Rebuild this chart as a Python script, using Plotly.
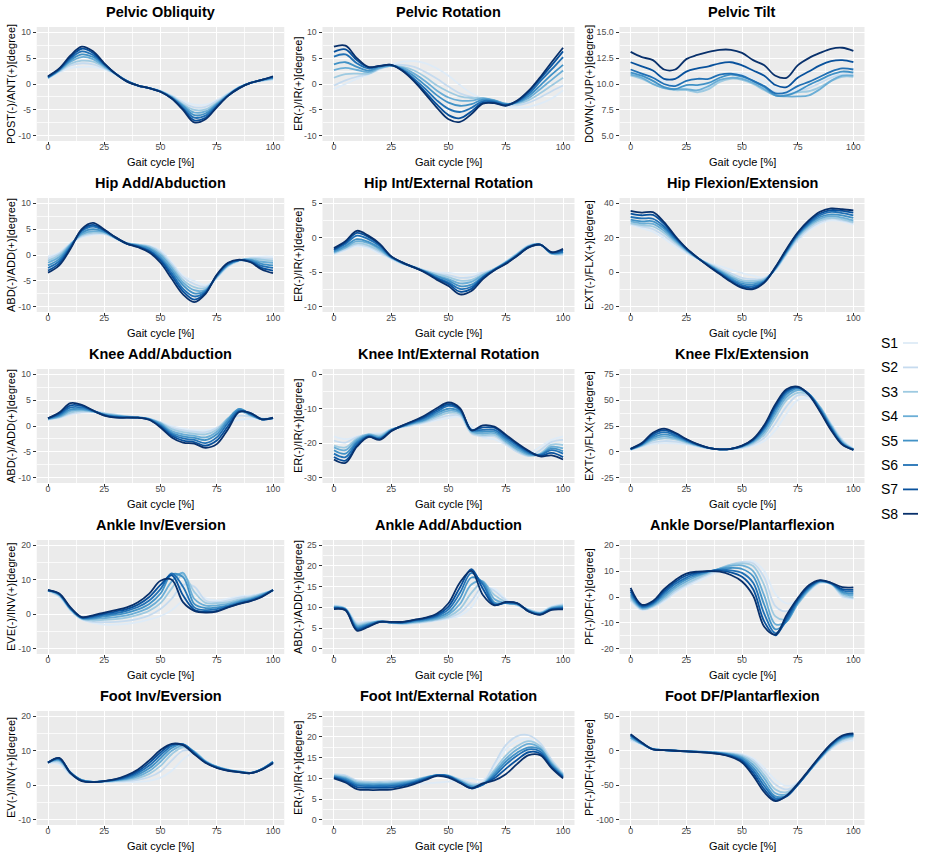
import plotly.graph_objects as go

W, H = 925, 858
FONT = "Liberation Sans, Arial, sans-serif"

gait = [0, 5, 10, 15, 20, 25, 30, 35, 40, 45, 50, 55, 60, 65, 70, 75, 80, 85, 90, 95, 100]
series_names = ["S1", "S2", "S3", "S4", "S5", "S6", "S7", "S8"]
colors = ["#DEEBF7", "#C6DBEF", "#9ECAE1", "#6BAED6", "#4292C6", "#2171B5", "#08519C", "#08306B"]

titles = ["Pelvic Obliquity", "Pelvic Rotation", "Pelvic Tilt",
          "Hip Add/Abduction", "Hip Int/External Rotation", "Hip Flexion/Extension",
          "Knee Add/Abduction", "Knee Int/External Rotation", "Knee Flx/Extension",
          "Ankle Inv/Eversion", "Ankle Add/Abduction", "Ankle Dorse/Plantarflexion",
          "Foot Inv/Eversion", "Foot Int/External Rotation", "Foot DF/Plantarflexion"]
ytitles = ["POST(-)/ANT(+)[degree]", "ER(-)/IR(+)[degree]", "DOWN(-)/UP(+)[degree]",
           "ABD(-)/ADD(+)[degree]", "ER(-)/IR(+)[degree]", "EXT(-)/FLX(+)[degree]",
           "ABD(-)/ADD(+)[degree]", "ER(-)/IR(+)[degree]", "EXT(-)/FLX(+)[degree]",
           "EVE(-)/INV(+)[degree]", "ABD(-)/ADD(+)[degree]", "PF(-)/DF(+)[degree]",
           "EV(-)/INV(+)[degree]", "ER(-)/IR(+)[degree]", "PF(-)/DF(+)[degree]"]
yticks = [[-10, -5, 0, 5, 10], [-10, -5, 0, 5, 10], [5, 7.5, 10, 12.5, 15],
          [-10, -5, 0, 5, 10], [-10, -5, 0, 5], [-20, 0, 20, 40],
          [-10, -5, 0, 5, 10], [-30, -20, -10, 0], [-25, 0, 25, 50, 75],
          [-10, 0, 10, 20], [0, 5, 10, 15, 20, 25], [-20, -10, 0, 10, 20],
          [-10, 0, 10, 20], [0, 5, 10, 15, 20, 25], [-100, -50, 0, 50]]
xticks = [0, 25, 50, 75, 100]
xlabel = "Gait cycle [%]"

pelvic_obliquity = [
    [1.0, 2.2, 3.1, 3.3, 3.3, 2.8, 1.8, 0.6, -0.4, -0.8, -1.3, -2.2, -3.3, -4.0, -4.0, -3.1, -1.8, -0.6, 0.2, 0.6, 0.8],
    [1.1, 2.4, 3.6, 4.0, 3.8, 3.0, 1.9, 0.6, -0.4, -0.8, -1.3, -2.3, -3.6, -4.5, -4.4, -3.3, -1.9, -0.6, 0.2, 0.6, 0.9],
    [1.1, 2.5, 3.9, 4.5, 4.3, 3.2, 1.9, 0.6, -0.3, -0.8, -1.4, -2.4, -3.9, -5.0, -4.9, -3.6, -2.0, -0.6, 0.2, 0.7, 1.0],
    [1.2, 2.6, 4.3, 5.2, 4.8, 3.4, 2.0, 0.6, -0.3, -0.8, -1.4, -2.5, -4.1, -5.5, -5.3, -3.8, -2.1, -0.7, 0.2, 0.7, 1.1],
    [1.3, 2.7, 4.6, 5.7, 5.2, 3.6, 2.0, 0.6, -0.3, -0.8, -1.4, -2.6, -4.3, -6.0, -5.7, -4.0, -2.2, -0.7, 0.2, 0.8, 1.2],
    [1.3, 2.8, 4.9, 6.3, 5.6, 3.8, 2.0, 0.6, -0.3, -0.8, -1.5, -2.7, -4.6, -6.5, -6.1, -4.2, -2.2, -0.7, 0.2, 0.8, 1.3],
    [1.4, 2.9, 5.2, 6.8, 6.0, 3.9, 2.0, 0.5, -0.3, -0.8, -1.5, -2.8, -4.8, -7.0, -6.5, -4.4, -2.3, -0.8, 0.2, 0.8, 1.4],
    [1.5, 3.0, 5.5, 7.2, 6.3, 4.0, 2.0, 0.5, -0.3, -0.8, -1.5, -2.8, -5.0, -7.4, -6.8, -4.5, -2.3, -0.8, 0.2, 0.8, 1.5],
]
pelvic_rotation = [
    [-1.0, 0.0, 1.0, 1.8, 2.8, 3.7, 4.3, 4.4, 4.0, 3.0, 1.6, -0.2, -1.8, -2.9, -3.7, -4.3, -4.6, -4.4, -3.8, -2.8, -1.2],
    [-0.3, 0.7, 1.4, 1.9, 2.9, 3.6, 3.7, 3.3, 2.3, 1.0, -0.5, -1.8, -2.5, -2.9, -3.5, -4.0, -4.1, -3.6, -2.6, -1.4, -0.3],
    [1.2, 1.9, 2.0, 2.0, 3.0, 3.5, 3.3, 2.6, 1.3, -0.3, -1.5, -2.4, -2.7, -2.7, -3.2, -3.8, -3.8, -3.1, -1.8, -0.3, 1.2],
    [2.7, 3.1, 2.7, 2.3, 3.1, 3.5, 3.1, 2.0, 0.5, -1.3, -2.6, -3.2, -3.2, -2.8, -3.1, -3.8, -3.6, -2.7, -1.0, 0.8, 2.6],
    [3.8, 4.2, 3.3, 2.6, 3.3, 3.6, 2.9, 1.5, -0.3, -2.2, -3.6, -4.2, -3.9, -3.0, -3.2, -3.9, -3.5, -2.3, -0.3, 1.8, 3.7],
    [5.3, 5.7, 4.0, 3.0, 3.4, 3.6, 2.7, 1.0, -1.0, -3.2, -4.8, -5.4, -4.6, -3.3, -3.4, -4.0, -3.4, -1.9, 0.5, 2.8, 5.2],
    [6.2, 6.7, 4.6, 3.2, 3.5, 3.7, 2.6, 0.7, -1.6, -4.0, -6.0, -6.6, -5.3, -3.6, -3.6, -4.1, -3.3, -1.5, 1.0, 3.6, 6.3],
    [7.2, 7.4, 5.0, 3.3, 3.5, 3.7, 2.5, 0.5, -2.0, -4.6, -6.8, -7.3, -5.8, -3.8, -3.7, -4.2, -3.2, -1.3, 1.3, 4.2, 7.0],
]
pelvic_tilt = [
    [11.2, 10.9, 10.7, 10.3, 9.9, 9.7, 9.7, 10.0, 10.6, 11.0, 11.0, 10.7, 10.2, 9.5, 9.2, 9.5, 9.9, 10.4, 10.8, 11.1, 11.2],
    [11.0, 10.7, 10.3, 9.7, 9.5, 9.4, 9.3, 9.6, 10.3, 10.6, 10.5, 10.2, 9.7, 9.2, 9.0, 9.3, 9.6, 10.1, 10.6, 10.9, 10.9],
    [10.8, 10.5, 10.0, 9.6, 9.4, 9.4, 9.2, 9.5, 10.2, 10.5, 10.4, 10.0, 9.4, 8.9, 8.9, 9.2, 9.3, 9.7, 10.3, 10.7, 10.7],
    [10.9, 10.6, 10.0, 9.6, 9.5, 9.5, 9.4, 9.8, 10.4, 10.6, 10.5, 10.1, 9.5, 8.9, 8.8, 8.8, 8.9, 9.5, 10.3, 10.8, 10.8],
    [11.1, 10.8, 10.3, 9.7, 9.5, 9.9, 9.9, 10.1, 10.6, 10.9, 10.7, 10.3, 9.7, 8.9, 8.9, 9.3, 9.9, 10.4, 10.9, 11.2, 11.1],
    [11.4, 11.0, 10.6, 10.0, 9.8, 10.3, 10.5, 10.5, 10.9, 11.0, 10.8, 10.3, 9.8, 9.1, 9.2, 9.8, 10.2, 10.7, 11.2, 11.5, 11.4],
    [12.1, 11.7, 11.3, 10.5, 10.5, 11.2, 11.5, 11.7, 12.0, 12.1, 11.8, 11.3, 10.8, 9.9, 9.7, 10.6, 11.2, 11.8, 12.2, 12.3, 12.1],
    [13.1, 12.6, 12.3, 11.4, 11.4, 12.4, 12.8, 13.1, 13.3, 13.3, 13.0, 12.3, 11.8, 10.8, 10.6, 11.8, 12.5, 13.0, 13.4, 13.5, 13.2],
]
hip_add_abd = [
    [-0.3, 0.5, 2.3, 3.4, 3.9, 4.0, 3.2, 2.3, 2.0, 1.8, 0.9, -1.4, -4.0, -5.0, -5.8, -4.5, -2.3, -1.2, -0.5, -0.3, -0.3],
    [-0.7, 0.3, 2.2, 3.6, 4.1, 4.1, 3.2, 2.3, 2.0, 1.7, 0.6, -1.7, -4.3, -5.6, -6.1, -4.4, -2.2, -1.1, -0.6, -0.6, -0.7],
    [-1.1, 0.0, 2.1, 3.8, 4.3, 4.2, 3.3, 2.3, 2.0, 1.6, 0.3, -2.1, -4.8, -6.2, -6.4, -4.3, -2.1, -1.1, -0.7, -0.9, -1.1],
    [-1.5, -0.4, 2.0, 4.0, 4.6, 4.4, 3.3, 2.3, 1.9, 1.4, 0.0, -2.5, -5.3, -6.8, -6.7, -4.2, -2.0, -1.0, -0.9, -1.3, -1.5],
    [-2.0, -0.8, 1.8, 4.3, 5.0, 4.5, 3.3, 2.2, 1.8, 1.2, -0.4, -3.0, -5.8, -7.4, -6.9, -4.1, -1.9, -1.0, -1.0, -1.7, -2.0],
    [-2.5, -1.2, 1.6, 4.6, 5.5, 4.7, 3.4, 2.2, 1.7, 0.9, -0.8, -3.5, -6.5, -8.0, -7.1, -4.0, -1.8, -1.0, -1.2, -2.1, -2.5],
    [-3.0, -1.6, 1.4, 4.8, 5.8, 4.8, 3.4, 2.2, 1.6, 0.7, -1.1, -4.0, -7.0, -8.6, -7.3, -3.9, -1.6, -1.0, -1.3, -2.5, -3.0],
    [-3.4, -2.0, 1.2, 5.0, 6.2, 4.9, 3.4, 2.2, 1.5, 0.5, -1.5, -4.6, -7.6, -9.1, -7.5, -3.8, -1.5, -0.9, -1.4, -2.8, -3.5],
]
hip_rotation = [
    [-2.4, -1.8, -1.2, -1.5, -2.3, -3.1, -3.8, -4.2, -4.7, -5.0, -5.1, -5.3, -5.3, -5.0, -4.5, -3.4, -2.2, -1.1, -1.0, -2.2, -2.5],
    [-2.3, -1.7, -1.0, -1.3, -2.1, -3.0, -3.8, -4.2, -4.8, -5.2, -5.4, -5.8, -5.7, -5.1, -4.5, -3.5, -2.3, -1.1, -1.0, -2.3, -2.4],
    [-2.2, -1.5, -0.8, -1.1, -1.9, -2.9, -3.7, -4.2, -4.8, -5.3, -5.7, -6.2, -6.1, -5.3, -4.5, -3.5, -2.3, -1.2, -1.0, -2.3, -2.3],
    [-2.1, -1.4, -0.5, -0.8, -1.7, -2.9, -3.7, -4.3, -4.9, -5.5, -6.0, -6.6, -6.4, -5.4, -4.6, -3.6, -2.4, -1.2, -1.0, -2.3, -2.2],
    [-2.0, -1.2, -0.2, -0.6, -1.5, -2.8, -3.7, -4.3, -4.9, -5.6, -6.2, -7.0, -6.8, -5.6, -4.6, -3.6, -2.5, -1.3, -1.0, -2.2, -2.1],
    [-1.8, -0.9, 0.3, -0.2, -1.2, -2.8, -3.6, -4.3, -5.0, -5.8, -6.5, -7.4, -7.1, -5.7, -4.6, -3.7, -2.5, -1.3, -1.0, -2.2, -2.0],
    [-1.7, -0.7, 0.7, 0.1, -1.0, -2.7, -3.6, -4.3, -5.0, -5.9, -6.7, -7.8, -7.4, -5.8, -4.7, -3.7, -2.6, -1.4, -1.0, -2.1, -1.8],
    [-1.5, -0.5, 1.0, 0.3, -0.9, -2.7, -3.6, -4.3, -5.1, -6.1, -7.0, -8.2, -7.7, -6.0, -4.7, -3.8, -2.6, -1.4, -1.0, -2.1, -1.6],
]
hip_flexion = [
    [27.5, 25.5, 23.5, 19.5, 15.0, 11.0, 8.0, 5.5, 3.5, 1.5, -0.5, -2.0, -3.0, 1.0, 10.0, 18.0, 24.0, 28.0, 30.0, 29.5, 27.5],
    [28.0, 26.5, 25.0, 21.2, 16.3, 11.8, 8.0, 5.1, 2.3, -0.6, -3.2, -4.0, -3.5, 1.5, 10.5, 19.0, 25.0, 29.0, 31.0, 30.0, 28.5],
    [28.5, 27.3, 26.5, 22.7, 17.3, 12.3, 8.1, 4.8, 1.5, -1.8, -4.5, -5.0, -4.0, 1.8, 11.0, 20.0, 26.0, 30.0, 31.5, 30.7, 29.0],
    [29.5, 28.3, 28.0, 24.0, 18.2, 12.8, 8.2, 4.5, 0.8, -2.7, -5.5, -6.0, -4.5, 2.0, 11.5, 20.8, 27.0, 31.0, 32.5, 31.7, 30.0],
    [30.5, 29.5, 29.5, 25.3, 19.0, 13.2, 8.3, 4.2, 0.3, -3.5, -6.5, -7.0, -5.0, 2.2, 12.0, 21.5, 27.8, 32.0, 33.5, 33.0, 31.5],
    [32.0, 31.2, 31.0, 26.5, 19.8, 13.5, 8.4, 3.9, -0.3, -4.3, -7.4, -8.0, -5.4, 2.5, 12.5, 22.0, 28.5, 33.0, 35.0, 34.3, 33.0],
    [34.0, 33.0, 33.2, 28.0, 20.5, 13.8, 8.5, 3.7, -0.7, -5.0, -8.3, -9.0, -5.8, 2.8, 13.0, 22.5, 29.3, 34.0, 36.0, 35.5, 34.5],
    [35.5, 34.5, 34.8, 29.0, 21.0, 14.0, 8.5, 3.5, -1.0, -5.5, -9.0, -9.8, -6.0, 3.0, 13.5, 23.0, 30.0, 35.0, 37.0, 36.5, 35.8],
]
knee_add_abd = [
    [1.2, 1.5, 2.2, 2.6, 2.7, 2.5, 2.2, 1.9, 1.7, 1.4, 0.8, 0.0, -0.5, -0.8, -0.8, -0.3, 0.6, 1.2, 1.4, 1.4, 1.5],
    [1.3, 1.6, 2.4, 2.7, 2.7, 2.5, 2.2, 1.9, 1.7, 1.4, 0.7, -0.3, -0.8, -1.1, -1.2, -0.4, 1.2, 2.0, 1.8, 1.4, 1.5],
    [1.3, 1.7, 2.6, 2.9, 2.8, 2.4, 2.1, 1.8, 1.7, 1.4, 0.6, -0.6, -1.2, -1.5, -1.6, -0.7, 1.5, 2.8, 2.0, 1.4, 1.5],
    [1.4, 1.8, 2.9, 3.1, 2.8, 2.3, 2.0, 1.8, 1.7, 1.4, 0.5, -1.0, -1.6, -1.9, -2.2, -1.1, 1.4, 3.3, 2.1, 1.3, 1.5],
    [1.4, 2.0, 3.2, 3.3, 2.9, 2.2, 1.9, 1.7, 1.6, 1.3, 0.3, -1.3, -2.0, -2.3, -2.7, -1.6, 1.1, 3.3, 2.2, 1.3, 1.5],
    [1.5, 2.2, 3.6, 3.6, 2.9, 2.1, 1.8, 1.7, 1.6, 1.3, 0.1, -1.6, -2.4, -2.7, -3.3, -2.2, 0.6, 3.0, 2.3, 1.3, 1.5],
    [1.5, 2.4, 4.0, 3.9, 3.0, 2.1, 1.7, 1.6, 1.6, 1.2, -0.1, -1.9, -2.8, -3.1, -3.8, -2.8, 0.0, 2.8, 2.5, 1.3, 1.5],
    [1.5, 2.6, 4.4, 4.1, 3.0, 2.0, 1.6, 1.6, 1.6, 1.2, -0.3, -2.2, -3.2, -3.4, -4.2, -3.5, -0.6, 2.7, 2.5, 1.3, 1.6],
]
knee_rotation = [
    [-18.0, -18.8, -18.0, -17.3, -17.0, -16.0, -15.3, -14.8, -14.1, -13.3, -12.7, -12.4, -15.0, -18.3, -18.8, -20.5, -22.3, -22.8, -21.0, -19.0, -18.0],
    [-19.2, -19.8, -18.2, -17.4, -17.4, -16.0, -15.3, -14.6, -13.9, -12.8, -12.0, -12.0, -17.2, -18.0, -18.0, -20.2, -22.5, -23.7, -22.0, -19.6, -19.0],
    [-20.7, -21.2, -18.6, -17.4, -17.8, -16.0, -15.2, -14.4, -13.6, -12.3, -11.2, -11.6, -16.9, -17.6, -17.6, -19.8, -22.1, -23.6, -23.0, -20.4, -20.5],
    [-21.2, -22.0, -19.0, -17.5, -18.1, -16.1, -15.1, -14.2, -13.3, -11.8, -10.6, -11.2, -16.6, -17.1, -17.1, -19.4, -21.7, -23.3, -23.2, -21.0, -21.5],
    [-22.0, -23.0, -19.5, -17.7, -18.4, -16.2, -15.0, -14.0, -13.0, -11.3, -10.0, -10.8, -16.3, -16.6, -16.6, -18.9, -21.2, -23.0, -23.3, -21.5, -22.3],
    [-23.0, -24.0, -20.0, -17.9, -18.6, -16.3, -15.0, -13.8, -12.6, -10.8, -9.2, -10.4, -16.1, -16.1, -16.1, -18.4, -20.7, -22.7, -23.4, -22.0, -23.0],
    [-24.0, -25.0, -20.6, -18.1, -18.8, -16.4, -14.9, -13.6, -12.2, -10.3, -8.7, -10.1, -16.1, -15.4, -15.5, -17.9, -20.3, -22.4, -23.6, -22.8, -24.0],
    [-24.7, -25.7, -21.0, -18.2, -19.0, -16.5, -14.8, -13.4, -11.8, -9.8, -8.2, -9.8, -16.3, -14.8, -15.2, -17.5, -20.0, -22.2, -23.8, -23.5, -24.7],
]
knee_flexion = [
    [2.0, 5.0, 7.5, 8.5, 8.2, 7.0, 5.0, 3.5, 2.5, 2.5, 3.5, 6.0, 10.5, 21.0, 37.0, 50.0, 51.5, 42.5, 27.5, 12.5, 3.0],
    [2.2, 5.5, 9.3, 10.5, 10.0, 8.0, 5.5, 3.5, 2.5, 2.7, 4.0, 7.3, 13.5, 27.5, 44.0, 54.5, 53.5, 43.5, 27.0, 11.5, 2.8],
    [2.3, 6.0, 11.0, 13.0, 12.0, 9.0, 6.0, 3.6, 2.5, 2.8, 4.5, 8.5, 16.5, 33.0, 50.0, 57.0, 55.0, 43.5, 26.0, 10.5, 2.7],
    [2.5, 6.5, 12.5, 15.0, 13.3, 9.7, 6.3, 3.7, 2.5, 2.9, 5.0, 9.5, 19.0, 36.5, 53.0, 59.5, 56.0, 43.0, 25.0, 9.5, 2.5],
    [2.7, 7.0, 14.0, 17.0, 14.8, 10.5, 6.7, 3.8, 2.5, 3.0, 5.3, 10.5, 21.5, 39.5, 55.5, 61.0, 56.0, 42.0, 24.0, 8.5, 2.3],
    [2.8, 7.5, 15.5, 19.0, 16.0, 11.2, 7.0, 3.9, 2.5, 3.0, 5.6, 11.3, 23.0, 42.0, 57.5, 62.0, 56.0, 41.0, 23.0, 8.0, 2.2],
    [3.0, 8.0, 17.0, 21.0, 17.5, 12.0, 7.3, 4.0, 2.5, 3.0, 5.8, 12.0, 24.5, 44.0, 59.0, 62.5, 55.5, 40.0, 22.0, 7.5, 2.0],
    [3.0, 8.5, 18.5, 22.5, 18.5, 12.5, 7.5, 4.0, 2.5, 3.0, 6.0, 12.5, 26.0, 46.0, 60.5, 63.0, 55.0, 39.0, 21.0, 7.0, 2.0],
]
ankle_inv_ev = [
    [6.8, 5.0, 1.0, -1.5, -2.5, -3.0, -3.0, -2.8, -2.3, -1.5, -0.5, 1.2, 4.0, 6.3, 4.6, 4.0, 4.5, 5.2, 5.5, 6.1, 6.8],
    [6.8, 5.2, 1.2, -1.4, -2.2, -2.3, -2.2, -1.9, -1.3, -0.3, 1.5, 4.5, 8.5, 8.0, 4.0, 3.5, 4.0, 4.8, 5.2, 6.0, 6.8],
    [6.8, 5.4, 1.3, -1.3, -1.8, -1.6, -1.4, -1.0, -0.2, 1.0, 3.2, 7.5, 11.5, 6.5, 3.3, 3.2, 3.5, 4.3, 4.9, 5.9, 6.9],
    [6.9, 5.6, 1.5, -1.2, -1.4, -1.1, -0.8, -0.3, 0.6, 2.0, 4.6, 9.5, 12.0, 4.5, 2.5, 2.6, 3.0, 3.9, 4.6, 5.7, 6.9],
    [6.9, 5.7, 1.6, -1.1, -1.1, -0.6, -0.2, 0.4, 1.4, 3.0, 6.0, 11.5, 10.8, 3.0, 1.8, 2.0, 2.6, 3.6, 4.3, 5.5, 7.0],
    [6.9, 5.8, 1.7, -1.0, -0.8, -0.2, 0.3, 1.0, 2.1, 4.0, 7.3, 11.8, 8.0, 2.0, 1.2, 1.5, 2.3, 3.3, 4.1, 5.3, 7.0],
    [7.0, 5.9, 1.8, -0.9, -0.5, 0.2, 0.8, 1.5, 2.8, 5.0, 8.5, 11.3, 5.5, 1.3, 0.7, 1.0, 2.1, 3.1, 3.9, 5.1, 7.0],
    [7.0, 6.0, 2.0, -0.8, -0.3, 0.5, 1.2, 2.0, 3.5, 6.0, 9.7, 10.0, 3.5, 1.0, 0.5, 0.8, 2.0, 3.0, 3.8, 5.0, 7.0],
]
ankle_add_abd = [
    [10.6, 9.8, 6.5, 6.7, 6.6, 6.2, 6.0, 6.1, 6.4, 6.8, 7.3, 8.0, 10.0, 14.0, 14.5, 12.0, 10.5, 9.5, 9.0, 10.3, 10.8],
    [10.4, 9.7, 6.2, 6.5, 6.6, 6.2, 6.0, 6.2, 6.5, 6.9, 7.5, 8.7, 11.5, 15.0, 14.0, 11.7, 10.5, 9.5, 8.8, 10.1, 10.7],
    [10.3, 9.7, 5.9, 6.3, 6.6, 6.3, 6.1, 6.3, 6.6, 7.1, 7.8, 9.6, 13.5, 16.0, 13.0, 11.3, 10.6, 9.4, 8.7, 10.0, 10.5],
    [10.1, 9.6, 5.6, 6.1, 6.6, 6.3, 6.2, 6.5, 6.8, 7.3, 8.3, 10.8, 15.5, 16.3, 12.0, 11.0, 10.7, 9.3, 8.6, 9.9, 10.3],
    [10.0, 9.5, 5.3, 5.9, 6.6, 6.4, 6.3, 6.6, 7.0, 7.6, 8.8, 12.2, 17.2, 16.0, 11.2, 11.0, 10.8, 9.2, 8.5, 9.7, 10.1],
    [9.9, 9.5, 5.0, 5.7, 6.5, 6.4, 6.3, 6.8, 7.2, 7.9, 9.5, 13.5, 18.3, 15.5, 10.8, 11.1, 10.9, 9.1, 8.4, 9.6, 9.9],
    [9.8, 9.4, 4.7, 5.5, 6.5, 6.4, 6.4, 6.9, 7.4, 8.2, 10.2, 14.8, 19.2, 14.5, 10.6, 11.2, 11.0, 9.0, 8.3, 9.5, 9.7],
    [9.6, 9.3, 4.4, 5.3, 6.5, 6.5, 6.5, 7.0, 7.5, 8.5, 11.0, 16.0, 18.8, 13.0, 10.5, 11.3, 11.0, 9.0, 8.2, 9.4, 9.5],
]
ankle_df_pf = [
    [-1.5, -5.0, -4.0, -1.7, 1.5, 4.0, 6.0, 8.0, 10.0, 12.0, 13.5, 13.8, 10.0, 1.0, -2.5, -1.5, 2.0, 5.3, 4.9, 0.0, -0.8],
    [-1.0, -4.8, -3.8, -1.2, 2.0, 4.6, 6.8, 8.7, 10.8, 12.5, 13.5, 13.0, 7.5, -3.5, -5.5, -2.5, 2.3, 5.5, 5.0, 0.5, -0.5],
    [-0.5, -4.6, -3.5, -0.7, 2.7, 5.2, 7.3, 9.2, 11.0, 12.5, 13.0, 12.0, 4.5, -7.5, -8.5, -2.8, 2.5, 5.7, 5.0, 1.0, -0.2],
    [0.3, -4.3, -3.2, 0.0, 3.5, 6.0, 8.0, 9.6, 11.0, 12.0, 12.2, 10.0, 0.5, -10.5, -9.5, -2.5, 2.8, 5.9, 5.1, 1.5, 0.5],
    [1.0, -4.0, -2.8, 0.8, 4.2, 6.8, 8.5, 9.8, 10.8, 11.2, 10.8, 8.0, -3.0, -12.5, -9.5, -2.0, 3.2, 6.0, 5.2, 2.0, 1.2],
    [2.0, -3.7, -2.4, 1.5, 5.0, 7.5, 9.0, 10.0, 10.5, 10.3, 9.3, 5.5, -6.5, -14.0, -9.0, -1.5, 3.6, 6.2, 5.3, 2.5, 2.0],
    [2.8, -3.3, -2.0, 2.2, 5.8, 8.3, 9.4, 10.0, 10.2, 9.5, 7.8, 3.0, -9.5, -14.8, -8.0, -1.0, 4.0, 6.3, 5.4, 3.0, 2.8],
    [3.5, -3.0, -1.5, 3.0, 6.5, 9.0, 9.8, 10.0, 9.8, 8.5, 6.0, 0.5, -11.5, -14.5, -7.0, -0.5, 4.5, 6.5, 5.5, 3.8, 3.7],
]
foot_inv_ev = [
    [6.5, 6.0, 3.0, 1.5, 1.0, 1.0, 0.9, 0.9, 1.0, 1.3, 2.2, 4.2, 7.5, 9.4, 7.2, 5.5, 4.5, 4.0, 3.6, 4.5, 6.0],
    [6.5, 6.5, 3.2, 1.5, 1.0, 1.0, 1.1, 1.2, 1.6, 2.4, 4.0, 7.2, 10.0, 9.8, 7.0, 5.4, 4.5, 4.0, 3.6, 4.6, 6.3],
    [6.6, 6.9, 3.4, 1.5, 1.0, 1.1, 1.2, 1.5, 2.1, 3.3, 5.6, 9.0, 11.0, 9.8, 7.0, 5.4, 4.5, 4.0, 3.6, 4.7, 6.6],
    [6.6, 7.2, 3.6, 1.5, 1.0, 1.1, 1.4, 1.8, 2.6, 4.1, 6.8, 10.0, 11.5, 9.7, 6.9, 5.3, 4.4, 4.0, 3.6, 4.7, 6.8],
    [6.6, 7.4, 3.7, 1.5, 1.0, 1.2, 1.5, 2.0, 3.1, 4.9, 7.8, 10.8, 11.8, 9.6, 6.8, 5.3, 4.4, 3.9, 3.6, 4.7, 6.8],
    [6.6, 7.6, 3.7, 1.4, 1.0, 1.2, 1.6, 2.3, 3.6, 5.7, 8.7, 11.4, 11.9, 9.4, 6.7, 5.2, 4.3, 3.9, 3.5, 4.6, 6.7],
    [6.6, 7.8, 3.6, 1.3, 0.9, 1.2, 1.7, 2.6, 4.1, 6.5, 9.5, 11.8, 11.8, 9.2, 6.6, 5.1, 4.3, 3.8, 3.5, 4.6, 6.6],
    [6.5, 7.9, 3.5, 1.2, 0.9, 1.2, 1.8, 2.9, 4.6, 7.2, 10.2, 12.0, 11.6, 9.0, 6.5, 5.0, 4.2, 3.8, 3.5, 4.5, 6.4],
]
foot_rotation = [
    [10.5, 10.2, 9.0, 8.6, 8.4, 8.4, 8.5, 8.7, 8.8, 9.0, 9.2, 9.7, 10.0, 9.6, 13.0, 17.0, 19.0, 19.5, 17.5, 14.2, 11.0],
    [11.0, 10.7, 9.5, 9.2, 9.2, 9.3, 9.4, 9.7, 10.3, 10.7, 10.6, 9.8, 8.8, 9.0, 13.5, 18.0, 20.2, 20.4, 18.5, 14.5, 11.2],
    [10.8, 10.4, 9.2, 9.0, 9.0, 9.0, 9.2, 9.6, 10.3, 10.8, 10.7, 9.6, 8.5, 8.8, 12.0, 15.5, 17.8, 19.0, 17.8, 14.0, 11.0],
    [10.6, 10.1, 8.9, 8.7, 8.7, 8.7, 9.0, 9.5, 10.2, 10.8, 10.6, 9.4, 8.2, 8.6, 11.5, 14.7, 17.0, 18.3, 17.3, 13.6, 10.8],
    [10.5, 9.9, 8.6, 8.4, 8.4, 8.5, 8.8, 9.3, 10.1, 10.8, 10.6, 9.3, 8.0, 8.5, 11.0, 14.0, 16.2, 17.5, 17.0, 13.3, 10.6],
    [10.3, 9.6, 8.3, 8.1, 8.1, 8.2, 8.5, 9.1, 10.0, 10.8, 10.5, 9.1, 7.7, 8.5, 10.5, 13.3, 15.5, 17.0, 16.5, 13.0, 10.4],
    [10.2, 9.3, 7.9, 7.7, 7.7, 7.8, 8.2, 8.9, 9.8, 10.7, 10.4, 9.0, 7.6, 8.6, 10.0, 12.3, 14.5, 16.3, 16.0, 12.7, 10.2],
    [10.0, 9.0, 7.4, 7.2, 7.2, 7.3, 7.8, 8.6, 9.6, 10.6, 10.2, 8.9, 7.6, 8.8, 9.5, 11.0, 13.5, 15.6, 15.6, 12.5, 10.0],
]
foot_df_pf = [
    [14.0, 9.0, 3.0, 1.0, 0.0, -0.5, -1.0, -1.5, -2.0, -3.0, -5.0, -11.0, -25.0, -42.0, -51.0, -46.0, -30.0, -13.0, 2.0, 12.0, 15.0],
    [16.0, 9.5, 2.9, 1.0, 0.0, -0.5, -1.1, -1.6, -2.3, -3.5, -6.0, -13.5, -30.0, -49.0, -56.0, -47.0, -30.0, -12.5, 3.0, 13.5, 18.0],
    [18.0, 9.8, 2.7, 1.0, 0.0, -0.6, -1.2, -1.8, -2.6, -4.2, -7.5, -16.5, -35.0, -56.0, -60.0, -48.0, -30.0, -11.5, 4.5, 15.5, 20.0],
    [19.0, 10.0, 2.5, 1.0, 0.0, -0.7, -1.3, -2.0, -3.0, -5.0, -9.0, -20.0, -40.0, -61.5, -63.0, -49.0, -30.0, -11.0, 5.5, 17.0, 21.0],
    [21.0, 10.5, 2.3, 1.0, 0.0, -0.8, -1.5, -2.3, -3.5, -6.0, -11.0, -24.0, -46.0, -66.0, -65.0, -49.5, -30.0, -10.5, 7.0, 18.5, 22.0],
    [22.0, 11.0, 2.2, 1.0, 0.0, -0.8, -1.6, -2.5, -4.0, -7.0, -13.0, -28.0, -51.0, -69.0, -66.0, -49.5, -29.5, -9.5, 8.0, 20.0, 23.0],
    [23.0, 11.5, 2.0, 1.0, 0.0, -0.9, -1.8, -2.8, -4.5, -8.0, -15.0, -32.0, -56.0, -71.5, -66.0, -49.0, -29.0, -9.0, 9.0, 21.0, 24.0],
    [24.0, 12.0, 2.0, 1.0, 0.0, -1.0, -2.0, -3.0, -5.0, -9.0, -17.0, -36.0, -60.0, -73.0, -65.0, -48.0, -28.0, -8.0, 10.0, 22.0, 25.0],
]

panels = [pelvic_obliquity, pelvic_rotation, pelvic_tilt,
          hip_add_abd, hip_rotation, hip_flexion,
          knee_add_abd, knee_rotation, knee_flexion,
          ankle_inv_ev, ankle_add_abd, ankle_df_pf,
          foot_inv_ev, foot_rotation, foot_df_pf]

# ---- layout geometry (pixels) ----
col_px = [(36.75, 284.25), (322.5, 574.5), (619.5, 864.5)]
ytitle_px = [11, 298, 589]
row_top0, row_step, panel_h = 27, 171, 114


def fmt(v, decimals):
    return f"{v:.{decimals}f}"


fig = go.Figure()
layout = dict(
    width=W, height=H, margin=dict(l=0, r=0, t=0, b=0),
    paper_bgcolor="white", plot_bgcolor="#EBEBEB",
    showlegend=False, font=dict(family=FONT, color="#000000"),
    annotations=[], shapes=[],
)

for i, data in enumerate(panels):
    r, c = divmod(i, 3)
    n = i + 1
    xa = "x" if n == 1 else f"x{n}"
    ya = "y" if n == 1 else f"y{n}"
    for s, ys in enumerate(data):
        fig.add_trace(go.Scatter(
            x=gait, y=ys, mode="lines", name=series_names[s],
            line=dict(color=colors[s], width=1.8, shape="spline", smoothing=1.0),
            xaxis=xa, yaxis=ya, hoverinfo="skip", showlegend=False))
    x0, x1 = col_px[c]
    top = row_top0 + row_step * r
    bot = top + panel_h
    tv = yticks[i]
    lo, hi = tv[0], tv[-1]
    span = hi - lo
    dec = 1 if any(abs(v - round(v)) > 1e-9 for v in tv) else 0
    ytext = [fmt(v, dec) for v in tv]
    yminor = [(tv[k] + tv[k + 1]) / 2 for k in range(len(tv) - 1)]
    tickfont = dict(family=FONT, size=8.8, color="#4D4D4D")
    layout["xaxis" if n == 1 else f"xaxis{n}"] = dict(
        domain=[x0 / W, x1 / W], anchor=ya, range=[-5, 105],
        tickmode="array", tickvals=xticks, ticktext=[str(v) for v in xticks],
        ticks="outside", ticklen=3, tickwidth=1, tickcolor="#333333",
        ticklabelstandoff=-6,
        showgrid=True, gridcolor="white", gridwidth=1.1,
        minor=dict(tickmode="array", tickvals=[12.5, 37.5, 62.5, 87.5],
                   showgrid=True, gridcolor="rgba(255,255,255,0.75)", gridwidth=0.6, ticks=""),
        zeroline=False, showline=False, tickfont=tickfont, fixedrange=True)
    layout["yaxis" if n == 1 else f"yaxis{n}"] = dict(
        domain=[1 - bot / H, 1 - top / H], anchor=xa,
        range=[lo - 0.05 * span, hi + 0.05 * span],
        tickmode="array", tickvals=tv, ticktext=ytext,
        ticks="outside", ticklen=3, tickwidth=1, tickcolor="#333333",
        showgrid=True, gridcolor="white", gridwidth=1.1,
        minor=dict(tickmode="array", tickvals=yminor,
                   showgrid=True, gridcolor="rgba(255,255,255,0.75)", gridwidth=0.6, ticks=""),
        zeroline=False, showline=False, tickfont=tickfont, fixedrange=True)
    # panel title
    layout["annotations"].append(dict(
        text=f"<b>{titles[i]}</b>", xref="paper", yref="paper",
        x=(x0 + x1) / 2 / W, y=1 - (12.3 + row_step * r) / H,
        xanchor="center", yanchor="middle", showarrow=False,
        font=dict(family=FONT, size=14.5, color="#000000")))
    # x axis title
    layout["annotations"].append(dict(
        text=xlabel, xref="paper", yref="paper",
        x=(x0 + x1) / 2 / W, y=1 - (bot + 20.5) / H,
        xanchor="center", yanchor="middle", showarrow=False,
        font=dict(family=FONT, size=11, color="#000000")))
    # y axis title
    layout["annotations"].append(dict(
        text=ytitles[i], xref="paper", yref="paper", textangle=-90,
        x=ytitle_px[c] / W, y=1 - (top + bot) / 2 / H,
        xanchor="center", yanchor="middle", showarrow=False,
        font=dict(family=FONT, size=11, color="#000000")))

# ---- legend (labels left of keys) ----
leg_y0, leg_step = 343, 24.4
for s, name in enumerate(series_names):
    yy = leg_y0 + leg_step * s
    layout["annotations"].append(dict(
        text=name, xref="paper", yref="paper", x=900 / W, y=1 - yy / H,
        xanchor="right", yanchor="middle", showarrow=False,
        font=dict(family=FONT, size=14, color="#000000")))
    layout["shapes"].append(dict(
        type="line", xref="paper", yref="paper",
        x0=903 / W, x1=918 / W, y0=1 - yy / H, y1=1 - yy / H,
        line=dict(color=colors[s], width=1.8)))

fig.update_layout(**layout)
fig.write_html("out.html")
